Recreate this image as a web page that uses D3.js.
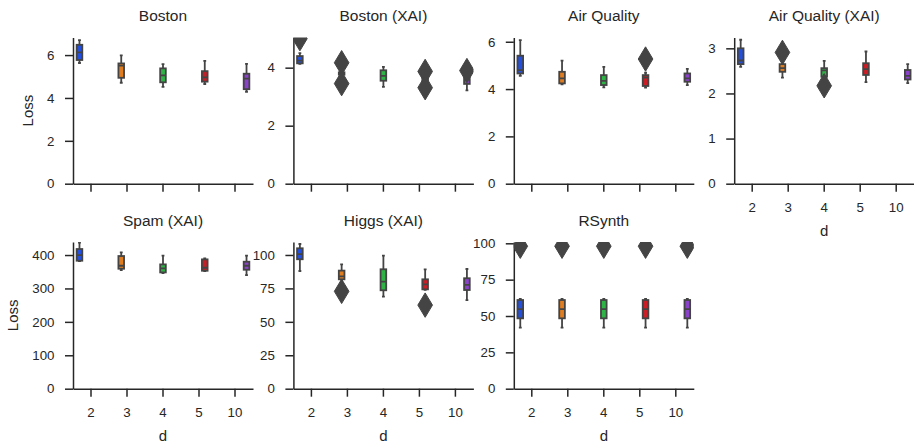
<!DOCTYPE html>
<html><head><meta charset="utf-8">
<script src="https://cdn.jsdelivr.net/npm/d3@7"></script>
<style>
body{margin:0;background:#fff}
text{font-family:"Liberation Sans",Arial,Helvetica,sans-serif;fill:#262626}
</style>
</head><body>
<svg id="chart" width="914" height="445"></svg>
<script>
// ---- data ----
const dLevels = ["2", "3", "4", "5", "10"];
const panelTitles = ["Boston", "Boston (XAI)", "Air Quality", "Air Quality (XAI)", "Spam (XAI)", "Higgs (XAI)", "RSynth"];
const yMaxes = [6.82, 5.04, 6.18, 3.24, 439, 109.7, 100.9];
const yTickValues = [
  [0, 2, 4, 6], [0, 2, 4], [0, 2, 4, 6], [0, 1, 2, 3],
  [0, 100, 200, 300, 400], [0, 25, 50, 75, 100], [0, 25, 50, 75, 100]
];
// stats per d: [whiskerLow, q1, median, q3, whiskerHigh]
const bostonStats = [[5.63, 5.77, 6.13, 6.48, 6.70], [4.71, 4.94, 5.51, 5.61, 5.99], [4.52, 4.73, 5.05, 5.38, 5.58], [4.65, 4.76, 4.96, 5.25, 5.73], [4.29, 4.41, 4.90, 5.13, 5.59]];
const bostonXaiStats = [[4.13, 4.15, 4.24, 4.40, 4.50], [3.72, 3.76, 3.80, 3.84, 3.88], [3.34, 3.55, 3.72, 3.91, 4.03], [3.50, 3.55, 3.60, 3.64, 3.68], [3.22, 3.44, 3.62, 3.80, 3.85]];
const airStats = [[4.56, 4.66, 4.80, 5.41, 6.07], [4.20, 4.24, 4.45, 4.73, 5.20], [4.07, 4.17, 4.35, 4.59, 4.94], [4.06, 4.13, 4.49, 4.59, 4.69], [4.17, 4.31, 4.45, 4.66, 4.85]];
const airXaiStats = [[2.59, 2.65, 2.73, 3.00, 3.19], [2.35, 2.48, 2.56, 2.65, 2.66], [2.36, 2.37, 2.51, 2.56, 2.72], [2.25, 2.41, 2.54, 2.67, 2.93], [2.23, 2.31, 2.39, 2.52, 2.65]];
const spamXaiStats = [[382, 383, 400, 418, 437], [355, 359, 368, 397, 408], [346, 348, 360, 372, 398], [352, 353, 362, 387, 390], [340, 356, 368, 380, 398]];
const higgsXaiStats = [[88, 96.8, 100.7, 105, 108.2], [80, 81.8, 84, 88.3, 93], [68.8, 73.6, 80, 89.3, 99.5], [74, 74.3, 78, 81.8, 89.3], [66.3, 73.8, 77.6, 82.6, 89.5]];
const rsynthStats = [[42, 48.4, 54.8, 61, 61.7], [42, 48.4, 54.8, 61, 61.7], [42, 48.4, 54.8, 61, 61.7], [42, 48.4, 54.8, 61, 61.7], [42, 48.4, 54.8, 61, 61.7]];
// outliers per panel: [d, value]
const bostonOutliers = [];
const bostonXaiOutliers = [["2", 5.0], ["3", 4.17], ["3", 3.45], ["5", 3.87], ["5", 3.31], ["10", 3.90]];
const airOutliers = [["5", 5.27]];
const airXaiOutliers = [["3", 2.91], ["4", 2.17]];
const spamXaiOutliers = [];
const higgsXaiOutliers = [["3", 72.8], ["5", 62.5]];
const rsynthOutliers = [["2", 98], ["3", 98], ["4", 98], ["5", 98], ["10", 98]];

const palette = ["#224fdf", "#df7d20", "#30b346", "#cb1d25", "#8a42cb"];

const allStats = [bostonStats, bostonXaiStats, airStats, airXaiStats, spamXaiStats, higgsXaiStats, rsynthStats];
const allOutliers = [bostonOutliers, bostonXaiOutliers, airOutliers, airXaiOutliers, spamXaiOutliers, higgsXaiOutliers, rsynthOutliers];

// ---- layout ----
const svg = d3.select("#chart");
svg.append("rect").attr("width", 914).attr("height", 445).attr("fill", "#fff");
const colX = [73, 293.4, 513.8, 734.2];
const rowTop = [37.5, 242];
const rowBottom = [183.7, 388.7];
const plotW = 180;
const ink = "#262626";
const gray = "#444444";
const lw = 1.8;

panelTitles.forEach((title, k) => {
  const col = k % 4, row = Math.floor(k / 4);
  const x0 = colX[col], top = rowTop[row], bottom = rowBottom[row];
  const x = d3.scaleBand().domain(dLevels).range([x0, x0 + plotW]).padding(0);
  const bw = x.bandwidth();
  const hue = d3.scaleBand().domain(dLevels).range([-0.4 * bw, 0.4 * bw]).padding(0);
  const y = d3.scaleLinear().domain([0, yMaxes[k]]).range([bottom, top]);
  const g = svg.append("g");

  const clipId = "clip" + k;
  svg.append("clipPath").attr("id", clipId).append("rect")
    .attr("x", x0).attr("y", top).attr("width", plotW).attr("height", bottom - top);

  // y axis
  const yAxis = g.append("g").attr("transform", `translate(${x0},0)`)
    .call(d3.axisLeft(y).tickValues(yTickValues[k]).tickFormat(d => String(d))
      .tickSize(8).tickSizeOuter(0).tickPadding(10.5));
  // x axis
  const showXLabels = (row === 1 || col === 3);
  const xAxis = g.append("g").attr("transform", `translate(0,${bottom})`)
    .call(d3.axisBottom(x).tickSize(8).tickSizeOuter(0).tickPadding(10.5)
      .tickFormat(d => showXLabels ? d : ""));
  [yAxis, xAxis].forEach(a => {
    a.selectAll("path,line").attr("stroke", ink).attr("stroke-width", 1.5);
    a.selectAll("text").attr("font-size", "13.3px").attr("fill", ink)
      .attr("font-family", '"Liberation Sans",Arial,sans-serif');
  });

  // title
  g.append("text").attr("x", x0 + plotW / 2).attr("y", top - 16.3)
    .attr("text-anchor", "middle").attr("font-size", "15.5px").text(title);

  // x label
  if (showXLabels) {
    g.append("text").attr("x", x0 + plotW / 2).attr("y", bottom + 52.5)
      .attr("text-anchor", "middle").attr("font-size", "15px").text("d");
  }
  // y label
  if (col === 0) {
    let minX = Infinity;
    yAxis.selectAll(".tick text").each(function () {
      const b = this.getBBox();
      minX = Math.min(minX, x0 + b.x);
    });
    const lx = minX - 14, ly = (top + bottom) / 2;
    g.append("text").attr("transform", `translate(${lx},${ly}) rotate(-90)`)
      .attr("text-anchor", "middle").attr("font-size", "15px").text("Loss");
  }

  // boxes
  const boxW = hue.bandwidth() * 0.98;
  const cxOf = d => x(d) + bw / 2 + hue(d) + hue.bandwidth() / 2;
  const marks = g.append("g").attr("clip-path", `url(#${clipId})`);
  allStats[k].forEach((s, i) => {
    const d = dLevels[i];
    const cx = cxOf(d);
    const [lo, q1, med, q3, hi] = s;
    const bg = marks.append("g");
    bg.append("line").attr("x1", cx).attr("x2", cx).attr("y1", y(lo)).attr("y2", y(q1))
      .attr("stroke", gray).attr("stroke-width", lw);
    bg.append("line").attr("x1", cx).attr("x2", cx).attr("y1", y(q3)).attr("y2", y(hi))
      .attr("stroke", gray).attr("stroke-width", lw);
    [lo, hi].forEach(v => {
      bg.append("line").attr("x1", cx - boxW / 4).attr("x2", cx + boxW / 4)
        .attr("y1", y(v)).attr("y2", y(v)).attr("stroke", gray).attr("stroke-width", lw);
    });
    bg.append("rect").attr("x", cx - boxW / 2).attr("y", y(q3))
      .attr("width", boxW).attr("height", Math.max(0, y(q1) - y(q3)))
      .attr("fill", palette[i]).attr("stroke", gray).attr("stroke-width", lw);
    bg.append("line").attr("x1", cx - boxW / 2).attr("x2", cx + boxW / 2)
      .attr("y1", y(med)).attr("y2", y(med)).attr("stroke", gray).attr("stroke-width", lw);
  });
  // outliers (thin diamonds)
  const h = 12.2, wHalf = 0.6 * h;
  allOutliers[k].forEach(([d, v]) => {
    const cx = cxOf(d), cy = y(v);
    marks.append("path")
      .attr("d", `M${cx},${cy - h}L${cx + wHalf},${cy}L${cx},${cy + h}L${cx - wHalf},${cy}Z`)
      .attr("fill", gray).attr("stroke", gray).attr("stroke-width", 1);
  });
});
</script>
</body></html>
